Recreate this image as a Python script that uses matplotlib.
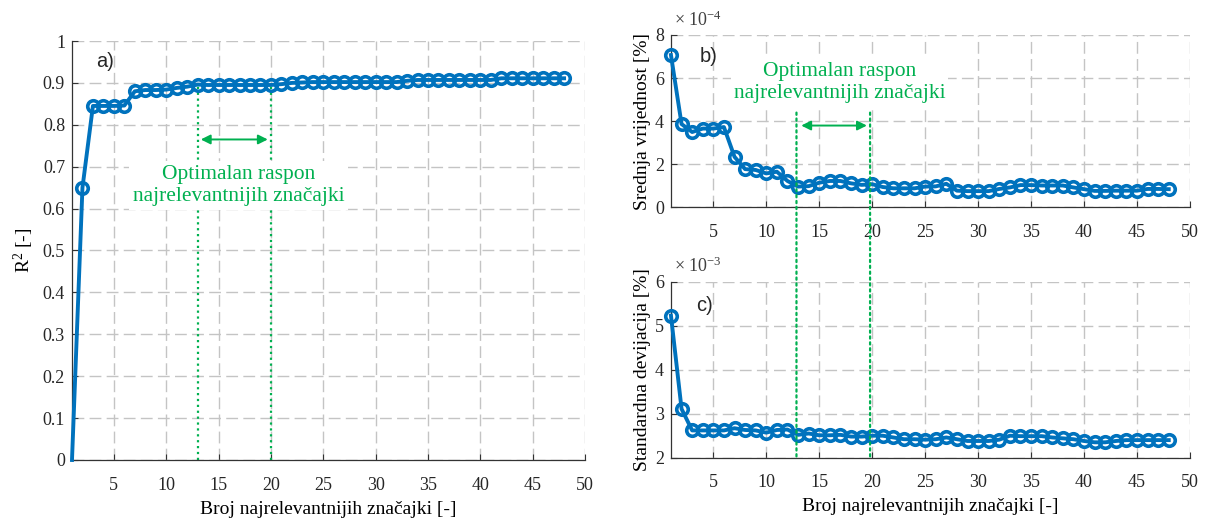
import matplotlib
matplotlib.use("Agg")
import matplotlib.pyplot as plt
from matplotlib.patches import ConnectionPatch

# ---- data ----
n_features = list(range(1, 49))

r2 = [0.0, 0.65, 0.845, 0.845, 0.845, 0.846, 0.880, 0.883, 0.883, 0.884,
      0.888, 0.891, 0.896, 0.895, 0.895, 0.895, 0.895, 0.895, 0.895, 0.895,
      0.897, 0.900, 0.901, 0.902, 0.902, 0.902, 0.902, 0.902, 0.902, 0.902,
      0.902, 0.902, 0.905, 0.907, 0.907, 0.907, 0.907, 0.907, 0.907, 0.907,
      0.907, 0.911, 0.911, 0.911, 0.911, 0.911, 0.911, 0.911]

mean_e4 = [7.07, 3.87, 3.50, 3.66, 3.66, 3.73, 2.35, 1.78, 1.74, 1.58,
           1.66, 1.23, 0.97, 0.99, 1.15, 1.23, 1.23, 1.12, 1.05, 1.08,
           0.95, 0.89, 0.89, 0.89, 0.97, 0.98, 1.10, 0.78, 0.76, 0.76,
           0.76, 0.86, 0.93, 1.04, 1.04, 1.02, 1.02, 1.02, 0.93, 0.85,
           0.77, 0.77, 0.78, 0.78, 0.78, 0.86, 0.86, 0.85]

std_e3 = [5.23, 3.11, 2.62, 2.62, 2.62, 2.62, 2.67, 2.63, 2.62, 2.57,
          2.63, 2.64, 2.52, 2.55, 2.51, 2.51, 2.52, 2.48, 2.48, 2.50,
          2.50, 2.46, 2.42, 2.42, 2.41, 2.42, 2.46, 2.42, 2.38, 2.38,
          2.38, 2.41, 2.50, 2.49, 2.49, 2.49, 2.46, 2.44, 2.42, 2.38,
          2.35, 2.35, 2.38, 2.40, 2.40, 2.40, 2.40, 2.40]

range_lo, range_hi = 12.85, 19.8
xticks = [5, 10, 15, 20, 25, 30, 35, 40, 45, 50]
yticks_a = [0, 0.1, 0.2, 0.3, 0.4, 0.5, 0.6, 0.7, 0.8, 0.9, 1]
yticklabels_a = ["0", "0.1", "0.2", "0.3", "0.4", "0.5", "0.6", "0.7", "0.8", "0.9", "1"]
yticks_b = [0, 2, 4, 6, 8]
yticks_c = [2, 3, 4, 5, 6]

xlabel = "Broj najrelevantnijih značajki [-]"
ann_text = "Optimalan raspon\nnajrelevantnijih značajki"

# ---- style ----
plt.rcParams["font.family"] = ["Liberation Serif", "DejaVu Serif"]
plt.rcParams["mathtext.fontset"] = "custom"
plt.rcParams["mathtext.rm"] = "Liberation Serif"
plt.rcParams["mathtext.it"] = "Liberation Serif:italic"

BLUE = "#0072BD"
GREEN = "#00B050"
GRID = "#c4c4c4"
AXC = "#333333"
SANS = ["Liberation Sans", "DejaVu Sans"]

fig = plt.figure(figsize=(12.12, 5.19), dpi=100)
ax_a = fig.add_axes([0.0594, 0.1137, 0.4233, 0.8073])
ax_b = fig.add_axes([0.5536, 0.6002, 0.4282, 0.3324])
ax_c = fig.add_axes([0.5536, 0.1181, 0.4282, 0.3391])


def style(ax, yticks, ylim, ylabels=None):
    ax.set_xlim(1, 50)
    ax.set_ylim(*ylim)
    ax.set_xticks(xticks)
    ax.set_yticks(yticks)
    if ylabels is not None:
        ax.set_yticklabels(ylabels)
    for s in ("top", "right"):
        ax.spines[s].set_visible(False)
    for s in ("left", "bottom"):
        ax.spines[s].set_color(AXC)
        ax.spines[s].set_linewidth(0.9)
    ax.tick_params(direction="in", length=4, width=0.8, colors=AXC,
                   labelsize=13, labelcolor="#262626")
    ax.tick_params(axis="x", pad=12)
    ax.tick_params(axis="y", pad=5)
    ax.grid(True, color=GRID, linestyle=(0, (8.5, 3.8)), linewidth=1.0)
    ax.set_axisbelow(True)


def plot_series(ax, y, hide_first=False):
    mk = list(range(1, len(y))) if hide_first else None
    ax.plot(n_features, y, color=BLUE, linewidth=2.8, marker="o",
            markersize=8.3, markerfacecolor="none", markeredgewidth=2.6,
            markevery=mk, zorder=4, clip_on=False)


# ---- panel a ----
style(ax_a, yticks_a, (0, 1), yticklabels_a)
plot_series(ax_a, r2, hide_first=True)
ax_a.plot([13.0, 13.0], [0, 0.895], color=GREEN, linestyle=":", linewidth=1.6, zorder=2)
ax_a.plot([20.0, 20.0], [0, 0.895], color=GREEN, linestyle=":", linewidth=1.6, zorder=2)
ax_a.annotate("", xy=(13.3, 0.765), xytext=(19.7, 0.765),
              arrowprops=dict(arrowstyle="<|-|>", color=GREEN, lw=1.4,
                              mutation_scale=14, shrinkA=0, shrinkB=0), zorder=3)
ax_a.text(16.9, 0.655, ann_text, color=GREEN, fontsize=15.5, ha="center",
          va="center", linespacing=1.2, zorder=3,
          bbox=dict(facecolor="white", edgecolor="none", pad=3))
ax_a.text(3.3, 0.95, "a)", family=SANS, fontsize=14.5, color="#262626", va="center")
ax_a.set_ylabel(r"R$^{2}$ [-]", fontsize=14, labelpad=5)
ax_a.set_xlabel(xlabel, fontsize=14, labelpad=5)

# ---- panel b ----
style(ax_b, yticks_b, (0, 8))
plot_series(ax_b, mean_e4)
ax_b.annotate("", xy=(13.3, 3.8), xytext=(19.5, 3.8),
              arrowprops=dict(arrowstyle="<|-|>", color=GREEN, lw=1.4,
                              mutation_scale=14, shrinkA=0, shrinkB=0), zorder=3)
ax_b.text(16.9, 5.8, ann_text, color=GREEN, fontsize=15.5, ha="center",
          va="center", linespacing=1.2, zorder=3,
          bbox=dict(facecolor="white", edgecolor="none", pad=2))
ax_b.text(3.7, 7.0, "b)", family=SANS, fontsize=14.5, color="#262626", va="center")
ax_b.text(0.005, 1.03, r"$\times$ 10$^{-4}$", transform=ax_b.transAxes,
          fontsize=13, color="#404040", va="bottom")
ax_b.set_ylabel("Srednja vrijednost [%]", fontsize=14, labelpad=3)

# ---- panel c ----
style(ax_c, yticks_c, (2, 6))
plot_series(ax_c, std_e3)
ax_c.text(3.4, 5.47, "c)", family=SANS, fontsize=14.5, color="#262626", va="center")
ax_c.text(0.005, 1.03, r"$\times$ 10$^{-3}$", transform=ax_c.transAxes,
          fontsize=13, color="#404040", va="bottom")
ax_c.set_ylabel("Standardna devijacija [%]", fontsize=14, labelpad=3)
ax_c.set_xlabel(xlabel, fontsize=14, labelpad=5)

# green range lines spanning panels b and c
for xv in (range_lo, range_hi):
    con = ConnectionPatch(xyA=(xv, 4.4), coordsA=ax_b.transData,
                          xyB=(xv, 2.0), coordsB=ax_c.transData,
                          color=GREEN, linestyle=":", linewidth=1.6, zorder=2)
    fig.add_artist(con)

fig.savefig("out.png", dpi=100)
